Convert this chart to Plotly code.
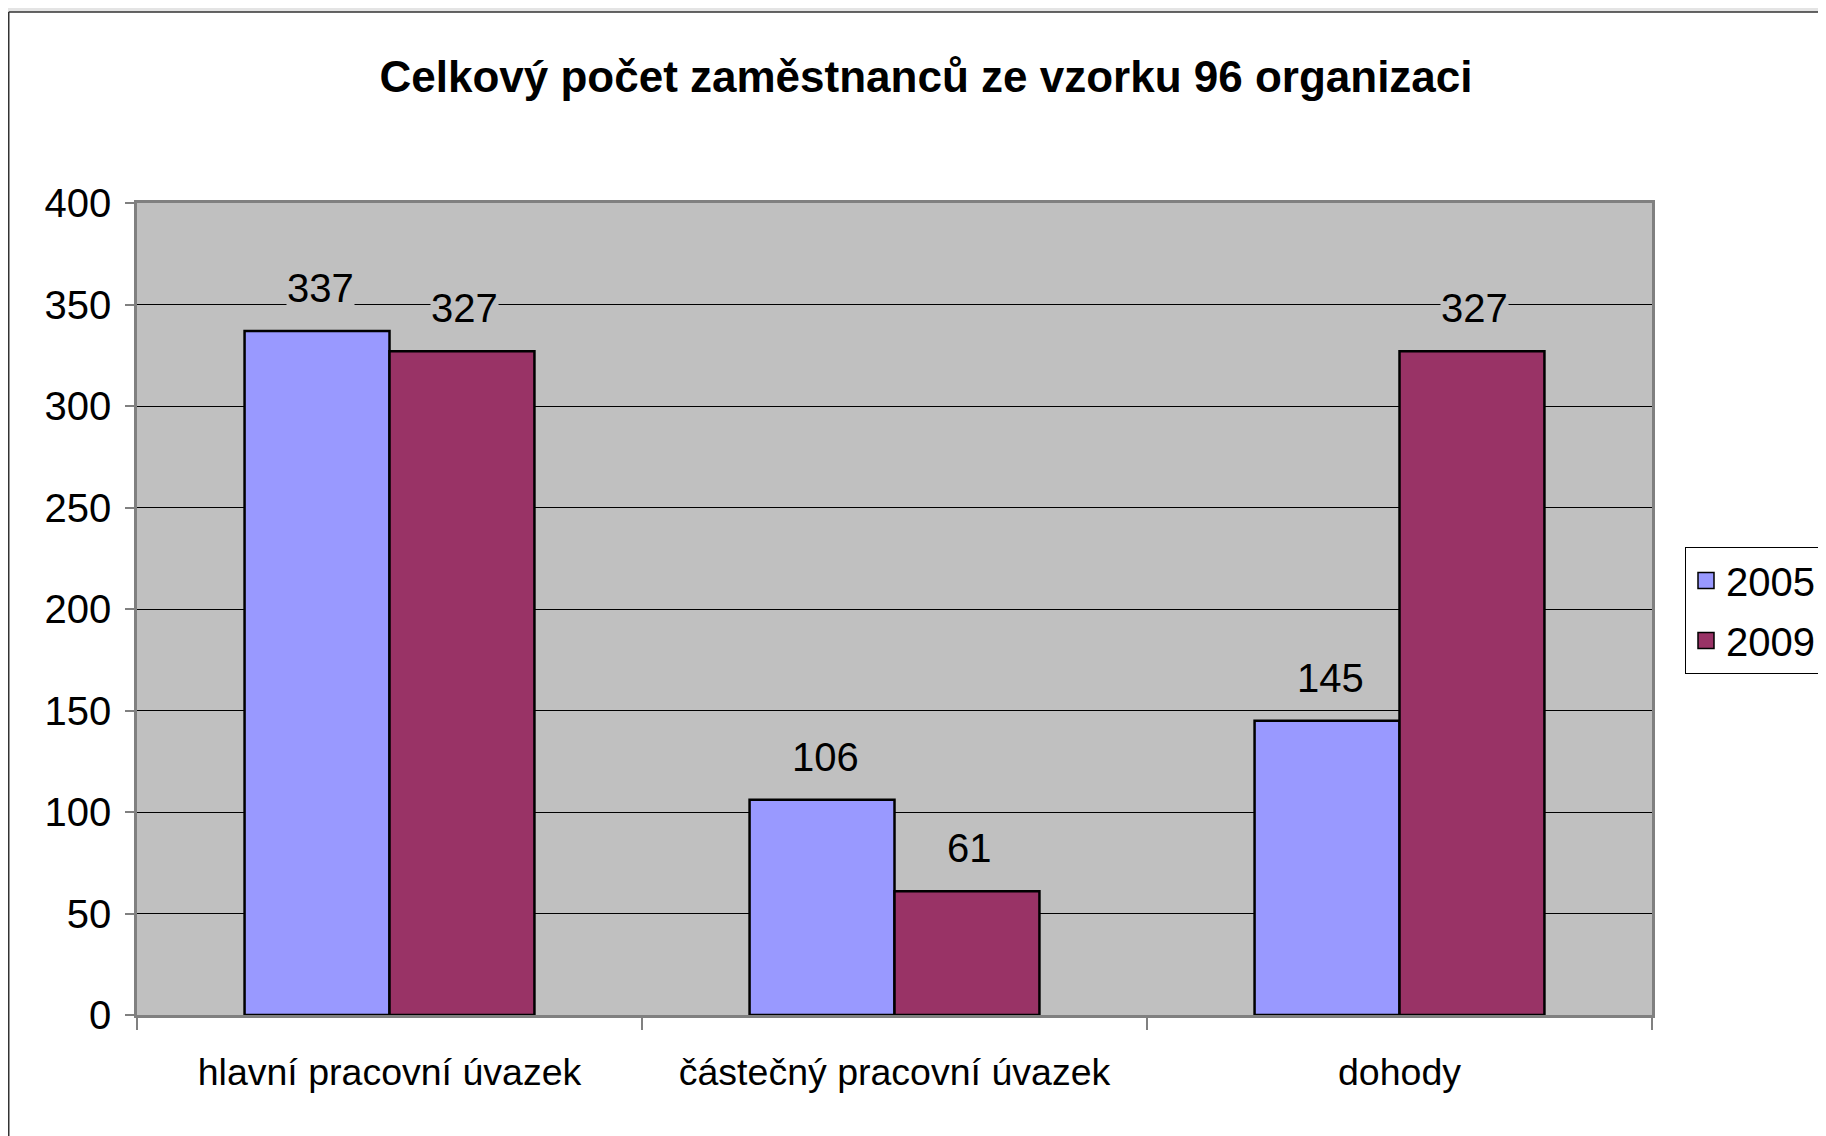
import plotly.graph_objects as go

categories = ["hlavní pracovní úvazek", "částečný pracovní úvazek", "dohody"]
series_names = ["2005", "2009"]
values_2005 = [337, 106, 145]
values_2009 = [327, 61, 327]
y_ticks = [0, 50, 100, 150, 200, 250, 300, 350, 400]
title_text = "Celkový počet zaměstnanců ze vzorku 96 organizaci"

W, H = 1826, 1136
ML, MR, MT, MB = 129, 182, 195, 129
plot_w = W - ML - MR
plot_h = H - MT - MB

FONT = "Liberation Sans, Arial, sans-serif"
colors = ["#9999FF", "#993366"]
PLOT_BG = "#C0C0C0"
bargap = 0.426
bar_w = plot_w / len(categories) * (1 - bargap) / 2

fig = go.Figure()
for name, vals, col in zip(series_names, [values_2005, values_2009], colors):
    fig.add_trace(go.Bar(
        x=categories, y=vals, name=name, showlegend=False,
        marker=dict(color=col, line=dict(color="black", width=2.5)),
    ))
# legend entries (square swatches)
for name, col in zip(series_names, colors):
    fig.add_trace(go.Scatter(
        x=[None], y=[None], mode="markers", name=name, legendgroup=name,
        marker=dict(symbol="square", size=16, color=col,
                    line=dict(color="black", width=1.5)),
    ))

annotations = []
for i, vals in enumerate([values_2005, values_2009]):
    shift = (i - 0.5) * bar_w + 3
    for c, v in zip(categories, vals):
        annotations.append(dict(
            x=c, y=v, xref="x", yref="y", text=str(v), showarrow=False,
            xshift=shift, yshift=43, yanchor="middle",
            bgcolor=PLOT_BG, borderpad=0,
            font=dict(family=FONT, size=40, color="black"),
        ))

# frame of the chart area: thin grey strip at top, dark border line top/left
px = lambda fx: (fx - ML) / plot_w
py = lambda fy: (MT + plot_h - fy) / plot_h
shapes = [
    dict(type="rect", xref="paper", yref="paper", layer="below",
         x0=px(-2), x1=px(W + 2), y0=py(4), y1=py(-2),
         fillcolor="#E4E4E4", line=dict(width=0)),
    dict(type="line", xref="paper", yref="paper", layer="below",
         x0=px(0.75), x1=px(W + 2), y0=py(4), y1=py(4),
         line=dict(color="#333333", width=1.5)),
    dict(type="line", xref="paper", yref="paper", layer="below",
         x0=px(0.75), x1=px(0.75), y0=py(4), y1=py(H + 2),
         line=dict(color="#333333", width=1.5)),
]

fig.update_layout(
    width=W, height=H,
    margin=dict(l=ML, r=MR, t=MT, b=MB, autoexpand=False),
    paper_bgcolor="white",
    plot_bgcolor=PLOT_BG,
    barmode="group", bargap=bargap, bargroupgap=0,
    title=dict(text="<b>" + title_text + "</b>", x=918 / W, xanchor="center",
               y=1 - 69 / H, yanchor="middle",
               font=dict(family=FONT, size=44, color="black")),
    showlegend=True,
    legend=dict(x=(1677 - ML) / plot_w, xanchor="left",
                y=(MT + plot_h - 539) / plot_h, yanchor="top",
                bgcolor="white", bordercolor="black", borderwidth=1,
                tracegroupgap=5, itemwidth=30,
                font=dict(family=FONT, size=40, color="black")),
    annotations=annotations,
    shapes=shapes,
)

fig.update_xaxes(
    type="category", tickson="boundaries", ticks="outside", ticklen=12,
    tickcolor="#808080", tickwidth=1.5,
    showline=True, linecolor="#808080", linewidth=2.5, mirror=True,
    showgrid=False, ticklabelstandoff=22,
    tickfont=dict(family=FONT, size=37.5, color="black"),
)
fig.update_yaxes(
    range=[0, 400], tickvals=y_ticks, ticks="outside", ticklen=9,
    tickcolor="#808080", tickwidth=1.5,
    showline=True, linecolor="#808080", linewidth=2.5, mirror=True,
    showgrid=True, gridcolor="black", gridwidth=1, zeroline=False,
    ticklabelstandoff=6,
    tickfont=dict(family=FONT, size=40, color="black"),
)

fig.write_html("out.html")
